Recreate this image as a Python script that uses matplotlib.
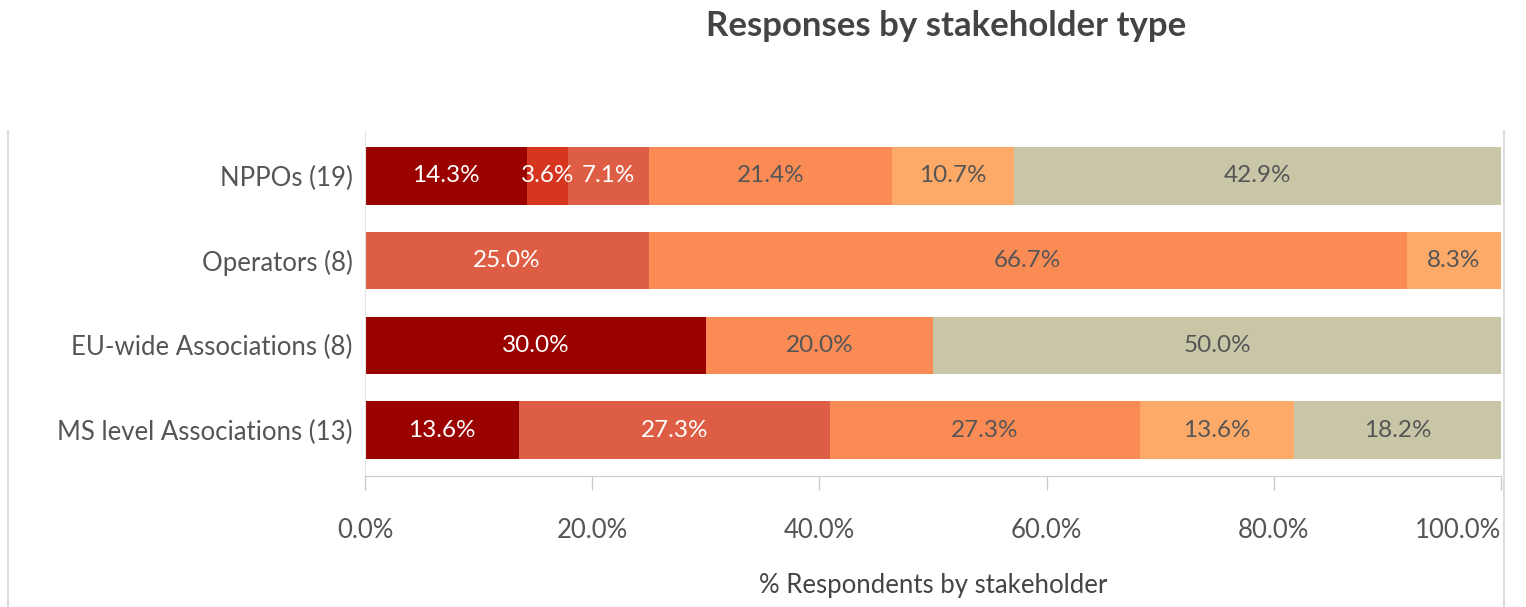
import numpy as np
import matplotlib.pyplot as plt
from matplotlib.lines import Line2D

plt.rcParams['font.family'] = ['Lato', 'DejaVu Sans']

groups = ['NPPOs (19)', 'Operators (8)', 'EU-wide Associations (8)', 'MS level Associations (13)']
# six answer categories, left to right
s1 = [14.3, 0.0, 30.0, 13.6]
s2 = [3.6, 0.0, 0.0, 0.0]
s3 = [7.1, 25.0, 0.0, 27.3]
s4 = [21.4, 66.7, 20.0, 27.3]
s5 = [10.7, 8.3, 0.0, 13.6]
s6 = [42.9, 0.0, 50.0, 18.2]
series = [s1, s2, s3, s4, s5, s6]
colors = ['#9a0200', '#d6351f', '#dd5e44', '#fb8b55', '#fdaa68', '#c9c6a8']
txtcol = ['white', 'white', 'white', '#555555', '#555555', '#555555']
xticks = [0, 20, 40, 60, 80, 100]

W, H = 1526, 607
fig = plt.figure(figsize=(W / 100, H / 100), dpi=100)
ax = fig.add_axes([365 / W, 1 - 476 / H, (1501 - 365) / W, (476 - 131) / H])

y = np.arange(len(groups))
left = np.zeros(len(groups))
for vals, c, tc in zip(series, colors, txtcol):
    vals = np.array(vals)
    ax.barh(y, vals, left=left, height=0.68, color=c, edgecolor='none')
    for yi, (l, v) in enumerate(zip(left, vals)):
        if v > 0:
            ax.text(l + v / 2, yi, f'{v:.1f}%', ha='center', va='center',
                    color=tc, fontsize=17.5)
    left += vals

ax.set_ylim(3.541, -0.529)
ax.set_xlim(0, 100)
ax.set_yticks(y)
ax.set_yticklabels(groups, fontsize=18.5, color='#555555')
ax.tick_params(axis='y', length=0, pad=9)
ax.set_xticks(xticks)
ax.set_xticklabels([f'{t:.1f}%' for t in xticks], fontsize=18.5, color='#555555')
ax.get_xticklabels()[-1].set_horizontalalignment('right')
ax.tick_params(axis='x', length=10, color='#cccccc', width=1, pad=20)
ax.set_xlabel('% Respondents by stakeholder', fontsize=18.5, color='#444444', labelpad=22)

for s in ['top', 'right']:
    ax.spines[s].set_visible(False)
ax.spines['left'].set_color('#e2e2e2')
ax.spines['bottom'].set_color('#cccccc')

# outer frame lines of the panel
fig.add_artist(Line2D([8 / W, 8 / W], [0, 1 - 131 / H], color='#dddddd', lw=1.5, zorder=0))
fig.add_artist(Line2D([1504 / W, 1504 / W], [0, 1 - 131 / H], color='#dddddd', lw=1.5, zorder=0))

fig.text(946 / W, 1 - 26 / H, 'Responses by stakeholder type', ha='center', va='center',
         fontsize=25, fontweight='bold', color='#444444')

fig.savefig('out.png', dpi=100)
